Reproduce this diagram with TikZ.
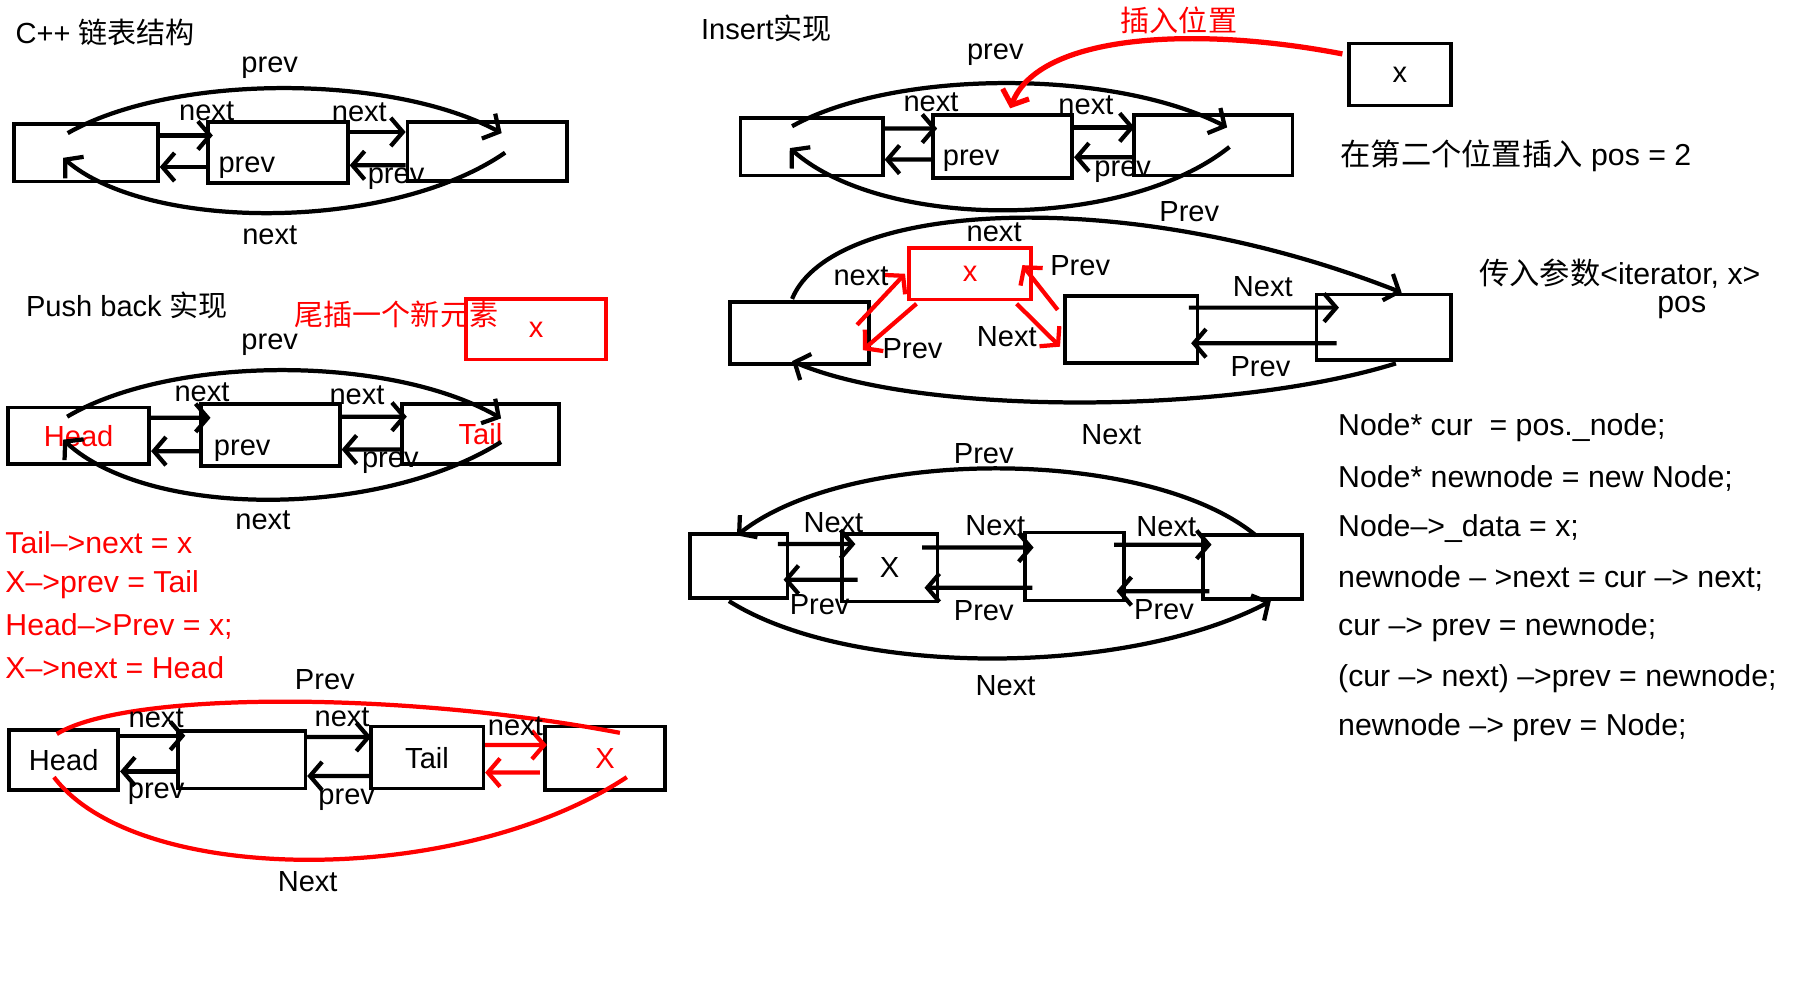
\documentclass[tikz,border=0pt]{standalone}
\usepackage{fontspec}
\setmainfont{Liberation Sans}
\newfontfamily\cjk{Noto Sans CJK SC}
\usepackage{tikz}
\usetikzlibrary{arrows.meta}
\def\fs{\fontsize{7.2pt}{8.6pt}\selectfont}
\def\fc{\fontsize{7.5pt}{9pt}\selectfont}

\begin{document}
\begin{tikzpicture}[x=0.01cm,y=-0.01cm,
  box/.style={draw,line width=0.9pt,inner sep=0pt,font=\fs},
  lbl/.style={font=\fs,inner sep=0pt},
  arr/.style={-{Straight Barb[length=3pt,width=7pt]},line width=1.05pt},
  code/.style={font=\fc,anchor=west,inner sep=0pt}]
\useasboundingbox (0,0) rectangle (1568,871);
% C++ list structure
\node[lbl,anchor=west] (t1) at (13,28) {C++ {\cjk 链表结构}};
\node[box,minimum width=1.25cm,minimum height=0.50cm] (a1) at (75,133) {};
\node[box,minimum width=1.22cm,minimum height=0.53cm] (b1) at (242,133) {};
\node[box,minimum width=1.39cm,minimum height=0.515cm] (c1) at (424.5,132) {};
\draw[arr] ([yshift=0.15cm]a1.east) -- ([xshift=0.06cm,yshift=0.15cm]b1.west);
\draw[arr] ([yshift=-0.125cm]b1.west) -- ([yshift=-0.125cm]a1.east);
\draw[arr] ([yshift=0.18cm]b1.east) -- ([yshift=0.17cm]c1.west);
\draw[arr] ([yshift=-0.12cm]c1.west) -- ([yshift=-0.11cm]b1.east);
\draw[arr] ([xshift=-0.16cm,yshift=0.17cm]a1.center) .. controls (150,64) and (340,64) .. ([xshift=0.125cm,yshift=0.16cm]c1.center);
\draw[arr] ([xshift=0.155cm,yshift=-0.01cm]c1.center) .. controls (340,202) and (130,202) .. ([xshift=-0.2cm,yshift=-0.045cm]a1.center);
\node[lbl] (l1a) at (235,59) {prev};
\node[lbl] (l1b) at (180,97) {next};
\node[lbl] (l1c) at (313,98) {next};
\node[lbl] (l1d) at (215,146) {prev};
\node[lbl] (l1e) at (345,156) {prev};
\node[lbl] (l1f) at (235,205) {next};
% Push back
\node[lbl,anchor=west] (t2) at (22,266) {Push back {\cjk 实现}};
\node[lbl,anchor=west,text=red] (t2r) at (256,274) {\cjk 尾插一个新元素};
\node[box,draw=red,text=red,minimum width=1.22cm,minimum height=0.525cm] (x2) at (467,287) {x};
\node[box,text=red,minimum width=1.23cm,minimum height=0.49cm] (h2) at (68.5,379.5) {Head};
\node[box,minimum width=1.21cm,minimum height=0.54cm] (b2) at (235.5,379) {};
\node[box,text=red,minimum width=1.37cm,minimum height=0.52cm] (t2b) at (418.5,378) {Tail};
\draw[arr] ([yshift=0.155cm]h2.east) -- ([xshift=0.1cm,yshift=0.15cm]b2.west);
\draw[arr] ([xshift=0.03cm,yshift=-0.14cm]b2.west) -- ([yshift=-0.135cm]h2.east);
\draw[arr] ([yshift=0.16cm]b2.east) -- ([xshift=0.06cm,yshift=0.15cm]t2b.west);
\draw[arr] ([yshift=-0.136cm]t2b.west) -- ([yshift=-0.126cm]b2.east);
\draw[arr] ([xshift=-0.1cm,yshift=0.165cm]h2.center) .. controls (150,309) and (340,309) .. ([xshift=0.18cm,yshift=0.135cm]t2b.center);
\draw[arr] ([xshift=0.18cm,yshift=-0.07cm]t2b.center) .. controls (330,452) and (130,452) .. ([xshift=-0.135cm,yshift=-0.035cm]h2.center);
\node[lbl] (l2a) at (235,300) {prev};
\node[lbl] (l2b) at (176,342) {next};
\node[lbl] (l2c) at (311,344) {next};
\node[lbl] (l2d) at (211,393) {prev};
\node[lbl] (l2e) at (340,403) {prev};
\node[lbl] (l2f) at (229,453) {next};
% red steps
\foreach \y/\txt [count=\i] in {473/{Tail–>next = x},509/{X–>prev = Tail},546/{Head–>Prev = x;},582/{X–>next = Head}}
  \node[code,text=red] (r\i) at (4,\y) {\txt};
% Push back result
\node[box,minimum width=0.95cm,minimum height=0.52cm] (h3) at (55.5,662) {Head};
\node[box,minimum width=1.11cm,minimum height=0.50cm] (b3) at (210.5,662) {};
\node[box,minimum width=0.98cm,minimum height=0.54cm] (t3) at (372,660) {Tail};
\node[box,text=red,minimum width=1.04cm,minimum height=0.55cm] (x3) at (527,660.5) {X};
\draw[arr] ([yshift=0.21cm]h3.east) -- ([xshift=0.08cm,yshift=0.21cm]b3.west);
\draw[arr] ([yshift=-0.10cm]b3.west) -- ([yshift=-0.10cm]h3.east);
\draw[arr] ([yshift=0.20cm]b3.east) -- ([xshift=0.02cm,yshift=0.18cm]t3.west);
\draw[arr] ([yshift=-0.16cm]t3.west) -- ([yshift=-0.14cm]b3.east);
\draw[arr,red] ([yshift=0.11cm]t3.east) -- ([xshift=0.03cm,yshift=0.115cm]x3.west);
\draw[arr,red] ([xshift=-0.03cm,yshift=-0.125cm]x3.west) -- ([yshift=-0.13cm]t3.east);
\draw[red,line width=1.05pt] ([xshift=-0.06cm,yshift=-0.05cm]h3.north) .. controls (110,602) and (350,602) .. ([xshift=0.13cm,yshift=-0.07cm]x3.north);
\draw[red,line width=1.05pt] ([xshift=-0.085cm,yshift=-0.15cm]h3.center) .. controls (120,773) and (400,773) .. ([xshift=0.19cm,yshift=-0.165cm]x3.center);
\node[lbl] (l3a) at (283,592) {Prev};
\node[lbl] (l3b) at (136,626) {next};
\node[lbl] (l3c) at (298,625) {next};
\node[lbl] (l3d) at (449,633) {next};
\node[lbl] (l3e) at (136,691) {prev};
\node[lbl] (l3f) at (302,697) {prev};
\node[lbl] (l3g) at (268,768) {Next};
% Insert
\node[lbl,anchor=west] (t4) at (610,25) {Insert{\cjk 实现}};
\node[lbl,text=red] (t4r) at (1027,18) {\cjk 插入位置};
\node[box,minimum width=0.89cm,minimum height=0.54cm] (x4) at (1219.5,65) {x};
\node[box,minimum width=1.24cm,minimum height=0.50cm] (a4) at (707,128) {};
\node[box,minimum width=1.21cm,minimum height=0.55cm] (b4) at (873.5,127.5) {};
\node[box,minimum width=1.38cm,minimum height=0.53cm] (c4) at (1057,126.5) {};
\draw[arr] ([yshift=0.16cm]a4.east) -- ([xshift=0.05cm,yshift=0.155cm]b4.west);
\draw[arr] ([yshift=-0.115cm]b4.west) -- ([yshift=-0.11cm]a4.east);
\draw[arr] ([yshift=0.165cm]b4.east) -- ([xshift=0.02cm,yshift=0.155cm]c4.west);
\draw[arr] ([yshift=-0.105cm]c4.west) -- ([yshift=-0.095cm]b4.east);
\draw[arr] ([xshift=-0.17cm,yshift=0.18cm]a4.center) .. controls (780,60) and (970,60) .. ([xshift=0.12cm,yshift=0.155cm]c4.center);
\draw[arr] ([xshift=0.14cm,yshift=-0.015cm]c4.center) .. controls (980,201) and (770,201) .. ([xshift=-0.19cm,yshift=-0.01cm]a4.center);
\draw[arr,red,line width=1.3pt] ([xshift=-0.04cm,yshift=0.18cm]x4.west) .. controls (1040,22) and (905,30) .. ([xshift=0.065cm,yshift=0.04cm]b4.north);
\node[lbl] (l4a) at (867,48) {prev};
\node[lbl] (l4b) at (811,89) {next};
\node[lbl] (l4c) at (946,92) {next};
\node[lbl] (l4d) at (846,140) {prev};
\node[lbl] (l4e) at (978,150) {prev};
\node[code] (t4c) at (1167,136) {{\cjk 在第二个位置插入} pos = 2};
% Insert, new node linked
\node[box,minimum width=1.21cm,minimum height=0.54cm] (a5) at (696.5,290) {};
\node[box,draw=red,text=red,minimum width=1.06cm,minimum height=0.45cm] (x5) at (845,238.5) {x};
\node[box,minimum width=1.15cm,minimum height=0.58cm] (b5) at (985.5,287) {};
\node[box,minimum width=1.17cm,minimum height=0.57cm] (c5) at (1205.5,285) {};
\draw[arr,red] ([xshift=-0.12cm,yshift=0.07cm]a5.east) -- ([xshift=-0.02cm]x5.west);
\draw[arr,red] ([xshift=0.08cm,yshift=-0.02cm]x5.south west) -- ([xshift=-0.07cm,yshift=-0.15cm]a5.east);
\draw[arr,red] ([xshift=-0.14cm,yshift=-0.02cm]x5.south east) -- ([xshift=-0.03cm,yshift=-0.15cm]b5.west);
\draw[arr,red] ([xshift=-0.05cm,yshift=0.17cm]b5.west) -- ([xshift=-0.09cm,yshift=0.075cm]x5.east);
\draw[arr] ([xshift=-0.09cm,yshift=0.19cm]b5.east) -- ([xshift=0.21cm,yshift=0.17cm]c5.west);
\draw[arr] ([xshift=0.19cm,yshift=-0.14cm]c5.west) -- ([xshift=-0.07cm,yshift=-0.12cm]b5.east);
\draw[arr] ([xshift=-0.065cm,yshift=0.01cm]a5.north) .. controls (725,175) and (980,160) .. ([xshift=0.155cm]c5.north);
\draw[arr] ([xshift=0.105cm,yshift=-0.015cm]c5.south) .. controls (1070,362) and (800,362) .. ([xshift=-0.065cm,yshift=0.04cm]a5.south);
\node[lbl] (l5a) at (1036,184) {Prev};
\node[lbl] (l5b) at (866,202) {next};
\node[lbl] (l5c) at (750,241) {next};
\node[lbl] (l5d) at (941,231) {Prev};
\node[lbl] (l5e) at (795,304) {Prev};
\node[lbl] (l5f) at (877,293) {Next};
\node[lbl] (l5g) at (1100,250) {Next};
\node[lbl] (l5h) at (1098,319) {Prev};
\node[code] (t5a) at (1288,238) {{\cjk 传入参数}<iterator, x>};
\node[code,anchor=center] (t5b) at (1465,268) {pos};
% Insert result
\node[box,minimum width=0.85cm,minimum height=0.56cm] (a6) at (643.5,493) {};
\node[box,minimum width=0.835cm,minimum height=0.59cm] (x6) at (775,494.5) {X};
\node[box,minimum width=0.86cm,minimum height=0.59cm] (b6) at (936,493.5) {};
\node[box,minimum width=0.86cm,minimum height=0.56cm] (c6) at (1091,494) {};
\draw[arr] ([xshift=-0.10cm,yshift=0.19cm]a6.east) -- ([xshift=0.135cm,yshift=0.205cm]x6.west);
\draw[arr] ([xshift=0.155cm,yshift=-0.105cm]x6.west) -- ([xshift=-0.05cm,yshift=-0.12cm]a6.east);
\draw[arr] ([xshift=-0.15cm,yshift=0.175cm]x6.east) -- ([xshift=0.09cm,yshift=0.165cm]b6.west);
\draw[arr] ([xshift=0.08cm,yshift=-0.185cm]b6.west) -- ([xshift=-0.13cm,yshift=-0.175cm]x6.east);
\draw[arr] ([xshift=-0.10cm,yshift=0.19cm]b6.east) -- ([xshift=0.09cm,yshift=0.195cm]c6.west);
\draw[arr] ([xshift=0.07cm,yshift=-0.21cm]c6.west) -- ([xshift=-0.08cm,yshift=-0.215cm]b6.east);
\draw[arr] ([xshift=0.03cm,yshift=-0.02cm]c6.north) .. controls (1000,389) and (740,389) .. ([xshift=-0.015cm,yshift=-0.03cm]a6.north);
\draw[arr] ([xshift=-0.085cm,yshift=-0.01cm]a6.south) .. controls (740,590) and (980,590) .. ([xshift=0.16cm]c6.south);
\node[lbl] (l6a) at (968,379) {Next};
\node[lbl] (l6b) at (857,395) {Prev};
\node[lbl] (l6c) at (726,455) {Next};
\node[lbl] (l6d) at (867,458) {Next};
\node[lbl] (l6e) at (1016,459) {Next};
\node[lbl] (l6f) at (714,527) {Prev};
\node[lbl] (l6g) at (857,532) {Prev};
\node[lbl] (l6h) at (1014,531) {Prev};
\node[lbl] (l6i) at (876,597) {Next};
% insert steps
\foreach \y/\txt [count=\i] in {373/{Node* cur~~= pos.\_node;},417/{Node* newnode = new Node;},460/{Node–>\_data = x;},504/{newnode – >next = cur –> next;},547/{cur –> prev = newnode;},591/{(cur –> next) –>prev = newnode;},634/{newnode –> prev = Node;}}
  \node[code] (s\i) at (1165,\y) {\txt};
\end{tikzpicture}
\end{document}
